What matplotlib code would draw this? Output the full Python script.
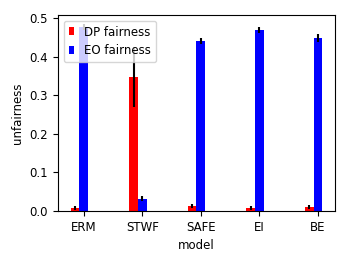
import matplotlib
matplotlib.use("Agg")
import matplotlib.pyplot as plt
import numpy as np

models = ["ERM", "STWF", "SAFE", "EI", "BE"]
dp_vals = [0.007, 0.348, 0.013, 0.007, 0.011]
dp_err = [0.005, 0.078, 0.005, 0.005, 0.005]
eo_vals = [0.476, 0.032, 0.440, 0.469, 0.449]
eo_err = [0.008, 0.007, 0.008, 0.007, 0.010]

plt.rcParams["font.size"] = 8.5

fig = plt.figure(figsize=(3.49, 2.62), dpi=100)
ax = fig.add_axes([0.166, 0.195, 0.794, 0.748])
x = np.arange(len(models))
w = 0.15
ax.bar(x - w, dp_vals, w, yerr=dp_err, color="red", ecolor="black",
       error_kw=dict(lw=1.5), label="DP fairness")
ax.bar(x, eo_vals, w, yerr=eo_err, color="blue", ecolor="black",
       error_kw=dict(lw=1.5), label="EO fairness")
ax.set_xticks(x)
ax.set_xticklabels(models)
ax.set_xlabel("model")
ax.set_ylabel("unfairness")
ax.legend(loc="upper left", fontsize=8.5, handlelength=0.45, handleheight=0.68,
          handletextpad=0.9)
fig.savefig("out.png", dpi=100)
